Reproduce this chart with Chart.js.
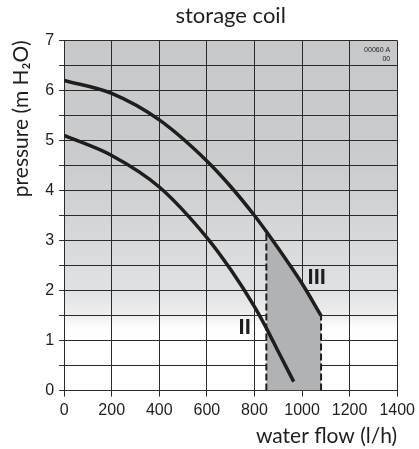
<!DOCTYPE html>
<html>
<head>
<meta charset="utf-8">
<script src="https://cdn.jsdelivr.net/npm/chart.js@4"></script>
<style>
html, body { margin: 0; padding: 0; background: #fff; }
#wrap { width: 419px; height: 449px; }
</style>
</head>
<body>
<div id="wrap"><canvas id="chart"></canvas></div>
<script>
// pump curves
var flowIII = [0, 200, 400, 600, 700, 800, 850, 950, 1000, 1080];
var headIII = [6.2, 5.94, 5.41, 4.59, 4.08, 3.5, 3.18, 2.5, 2.14, 1.5];
var flowII = [0, 200, 400, 600, 700, 800, 850, 900, 965];
var headII = [5.1, 4.7, 4.07, 3.06, 2.42, 1.68, 1.25, 0.78, 0.18];
// working range of the storage coil
var rangeFlow = [850, 1080];
var xTickValues = [0, 200, 400, 600, 800, 1000, 1200, 1400];
var yTickValues = [0, 1, 2, 3, 4, 5, 6, 7];

function points(xs, ys) {
    var out = [];
    for (var i = 0; i < xs.length; i++) out.push({ x: xs[i], y: ys[i] });
    return out;
}

var curveIII = points(flowIII, headIII);
var curveII = points(flowII, headII);
var shaded = curveIII.filter(function(p) { return p.x >= rangeFlow[0]; });
var leftEdge = [{ x: rangeFlow[0], y: 0 }, { x: rangeFlow[0], y: shaded[0].y }];
var rightEdge = [{ x: rangeFlow[1], y: 0 }, { x: rangeFlow[1], y: shaded[shaded.length - 1].y }];

var backdrop = {
    id: "backdrop",
    beforeDraw: function(chart) {
        var ctx = chart.ctx, a = chart.chartArea, y = chart.scales.y;
        var top = y.getPixelForValue(7), bottom = y.getPixelForValue(0);
        var g = ctx.createLinearGradient(0, top, 0, bottom);
        g.addColorStop(0, "#c7c8ca");
        g.addColorStop(2.5 / 7, "#cbcccd");
        g.addColorStop(5 / 7, "#e0e1e3");
        g.addColorStop(5.5 / 7, "#eeeeef");
        g.addColorStop(5.7 / 7, "#fbfbfb");
        g.addColorStop(5.8 / 7, "#ffffff");
        g.addColorStop(1, "#ffffff");
        ctx.save();
        ctx.fillStyle = g;
        ctx.fillRect(a.left, a.top, a.right - a.left, a.bottom - a.top);
        ctx.restore();
    }
};

var labels = {
    id: "labels",
    afterDatasetsDraw: function(chart) {
        var ctx = chart.ctx, x = chart.scales.x, y = chart.scales.y;
        ctx.save();
        ctx.fillStyle = "#1e1e1e";
        ctx.font = "bold 22px 'Liberation Sans', Arial, sans-serif";
        ctx.textAlign = "center";
        ctx.textBaseline = "middle";
        ctx.fillText("III", x.getPixelForValue(1062), y.getPixelForValue(2.25));
        ctx.fillText("II", x.getPixelForValue(759), y.getPixelForValue(1.25));
        ctx.font = "7px 'Liberation Sans', Arial, sans-serif";
        ctx.textAlign = "right";
        ctx.fillText("00060 A", x.getPixelForValue(1400) - 7, y.getPixelForValue(6.81));
        ctx.fillText("00", x.getPixelForValue(1400) - 7, y.getPixelForValue(6.63));
        ctx.restore();
    }
};

var titleFont = "Lato, 'Open Sans', sans-serif";
var tickFont = "'Liberation Sans', Arial, sans-serif";

new Chart("chart", {
    type: "line",
    data: {
        datasets: [
            {
                data: curveIII,
                borderColor: "#1e1e1e",
                borderWidth: 3.5,
                pointRadius: 0,
                cubicInterpolationMode: "monotone",
                order: 1
            },
            {
                data: curveII,
                borderColor: "#1e1e1e",
                borderWidth: 3.5,
                pointRadius: 0,
                cubicInterpolationMode: "monotone",
                order: 1
            },
            {
                data: leftEdge,
                borderColor: "#1e1e1e",
                borderWidth: 2,
                borderDash: [7, 3],
                pointRadius: 0,
                order: 2
            },
            {
                data: rightEdge,
                borderColor: "#1e1e1e",
                borderWidth: 2,
                borderDash: [7, 3],
                pointRadius: 0,
                order: 2
            },
            {
                data: shaded,
                borderWidth: 0,
                borderColor: "rgba(0,0,0,0)",
                backgroundColor: "#b1b2b4",
                fill: "origin",
                pointRadius: 0,
                cubicInterpolationMode: "monotone",
                order: 3
            }
        ]
    },
    options: {
        responsive: true,
        maintainAspectRatio: false,
        animation: false,
        layout: { padding: { left: 9, right: 8, top: 0, bottom: 0 } },
        plugins: {
            legend: { display: false },
            tooltip: { enabled: false },
            title: {
                display: true,
                text: "storage coil",
                fullSize: false,
                color: "#1e1e1e",
                font: { family: titleFont, size: 22, weight: "normal" },
                padding: { top: 3, bottom: 11 }
            }
        },
        scales: {
            x: {
                type: "linear",
                min: 0,
                max: 1400,
                afterBuildTicks: function(axis) {
                    axis.ticks = xTickValues.map(function(v) { return { value: v }; });
                },
                grid: { color: "#2a2a2a", lineWidth: 1, tickLength: 6 },
                border: { color: "#2a2a2a" },
                ticks: {
                    color: "#1e1e1e",
                    padding: 4,
                    maxRotation: 0,
                    font: { family: tickFont, size: 16 },
                    callback: function(v) { return String(v); }
                },
                title: {
                    display: true,
                    text: "water flow (l/h)",
                    align: "end",
                    color: "#1e1e1e",
                    font: { family: titleFont, size: 21 },
                    padding: { top: 0, bottom: 0 }
                }
            },
            y: {
                min: 0,
                max: 7,
                ticks: {
                    stepSize: 0.5,
                    color: "#1e1e1e",
                    padding: 5,
                    font: { family: tickFont, size: 16 },
                    callback: function(v) { return yTickValues.indexOf(v) >= 0 ? String(v) : ""; }
                },
                grid: { color: "#2a2a2a", lineWidth: 1, tickLength: 5 },
                border: { color: "#2a2a2a" },
                title: {
                    display: true,
                    text: "pressure (m H\u2082O)",
                    align: "end",
                    color: "#1e1e1e",
                    font: { family: titleFont, size: 21 },
                    padding: { top: 0, bottom: 6 }
                }
            }
        }
    },
    plugins: [backdrop, labels]
});
</script>
</body>
</html>
